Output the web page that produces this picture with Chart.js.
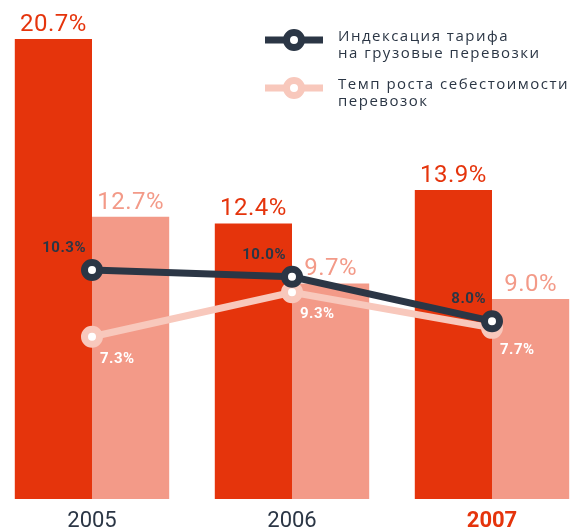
<!DOCTYPE html>
<html>
<head>
<meta charset="utf-8">
<script src="https://cdn.jsdelivr.net/npm/chart.js@4/dist/chart.umd.min.js"></script>
<style>
    html, body { margin: 0; padding: 0; background: #fff; }
    #wrap { width: 574px; height: 531px; position: relative; }
</style>
</head>
<body>
<div id="wrap"><canvas id="myChart"></canvas></div>
<script>
const years = ['2005', '2006', '2007'];
const barDark = [20.7, 12.4, 13.9];
const barLight = [12.7, 9.7, 9.0];
const tariffIndex = [10.3, 10.0, 8.0];     // Индексация тарифа
const costGrowth = [7.3, 9.3, 7.7];        // Темп роста себестоимости

const RED = 'rgb(229, 52, 12)';
const SALMON = 'rgb(243, 154, 136)';
const NAVY = 'rgb(43, 54, 69)';
const PINK = 'rgb(248, 200, 188)';

const legendItems = [
    { color: NAVY, lines: ['Индексация тарифа', 'на грузовые перевозки'], y: 40 },
    { color: PINK, lines: ['Темп роста себестоимости', 'перевозок'], y: 88 }
];

const fmt = v => v.toFixed(1) + '%';

const labelPlugin = {
    id: 'labels',
    afterDatasetsDraw(chart) {
        const ctx = chart.ctx;
        ctx.save();
        // bar values above bars
        [[0, RED], [1, SALMON]].forEach(([i, color]) => {
            const meta = chart.getDatasetMeta(i);
            ctx.fillStyle = color;
            ctx.font = '24px Roboto';
            ctx.letterSpacing = '0.5px';
            ctx.textAlign = 'center';
            ctx.textBaseline = 'alphabetic';
            meta.data.forEach((bar, j) => {
                ctx.fillText(fmt(chart.data.datasets[i].data[j]), bar.x, bar.y - 8);
            });
        });
        // line values
        ctx.font = 'bold 15px Roboto';
        ctx.letterSpacing = '0.5px';
        ctx.textBaseline = 'middle';
        chart.getDatasetMeta(2).data.forEach((pt, j) => {
            ctx.fillStyle = NAVY;
            ctx.textAlign = 'right';
            ctx.fillText(fmt(tariffIndex[j]), pt.x - 6, pt.y - 22);
        });
        chart.getDatasetMeta(3).data.forEach((pt, j) => {
            ctx.fillStyle = '#fff';
            ctx.textAlign = 'left';
            ctx.fillText(fmt(costGrowth[j]), pt.x + 8, pt.y + 22);
        });
        ctx.restore();
    },
    afterDraw(chart) {
        const ctx = chart.ctx;
        ctx.save();
        legendItems.forEach(item => {
            ctx.strokeStyle = item.color;
            ctx.lineWidth = 7;
            ctx.beginPath();
            ctx.moveTo(265, item.y);
            ctx.lineTo(323, item.y);
            ctx.stroke();
            ctx.beginPath();
            ctx.arc(294, item.y, 7.5, 0, Math.PI * 2);
            ctx.fillStyle = '#fff';
            ctx.fill();
            ctx.stroke();
            ctx.fillStyle = NAVY;
            ctx.font = '500 15px "Open Sans"';
            ctx.letterSpacing = '1.5px';
            ctx.textAlign = 'left';
            ctx.textBaseline = 'middle';
            item.lines.forEach((t, k) => {
                ctx.fillText(t, 338, item.y - 3 + k * 17);
            });
        });
        ctx.restore();
    }
};

const myChart = new Chart(document.getElementById('myChart').getContext('2d'), {
    type: 'bar',
    data: {
        labels: years,
        datasets: [
            { type: 'bar', data: barDark, backgroundColor: RED, order: 2, clip: false },
            { type: 'bar', data: barLight, backgroundColor: SALMON, order: 3, clip: false },
            {
                type: 'line', data: tariffIndex, borderColor: NAVY, borderWidth: 7,
                pointRadius: 7.5, pointBorderWidth: 7, pointBackgroundColor: '#fff',
                pointBorderColor: NAVY, order: 0, clip: false
            },
            {
                type: 'line', data: costGrowth, borderColor: PINK, borderWidth: 7,
                pointRadius: 7.5, pointBorderWidth: 7, pointBackgroundColor: '#fff',
                pointBorderColor: PINK, order: 1, clip: false
            }
        ]
    },
    options: {
        responsive: true,
        maintainAspectRatio: false,
        animation: false,
        layout: { padding: { left: 92, right: 82, top: 0, bottom: 0 } },
        datasets: {
            bar: { categoryPercentage: 0.772, barPercentage: 1 }
        },
        scales: {
            x: {
                offset: false,
                grid: { display: false },
                border: { display: false },
                afterFit: scale => { scale.height = 32; },
                ticks: {
                    padding: 1,
                    color: c => c.index === 2 ? RED : NAVY,
                    font: c => ({ family: 'Roboto', size: 22, weight: c.index === 2 ? 'bold' : 'normal' })
                }
            },
            y: { display: false, min: 0, max: 21.8 }
        },
        plugins: {
            legend: { display: false },
            tooltip: { enabled: false }
        }
    },
    plugins: [labelPlugin]
});
</script>
</body>
</html>
